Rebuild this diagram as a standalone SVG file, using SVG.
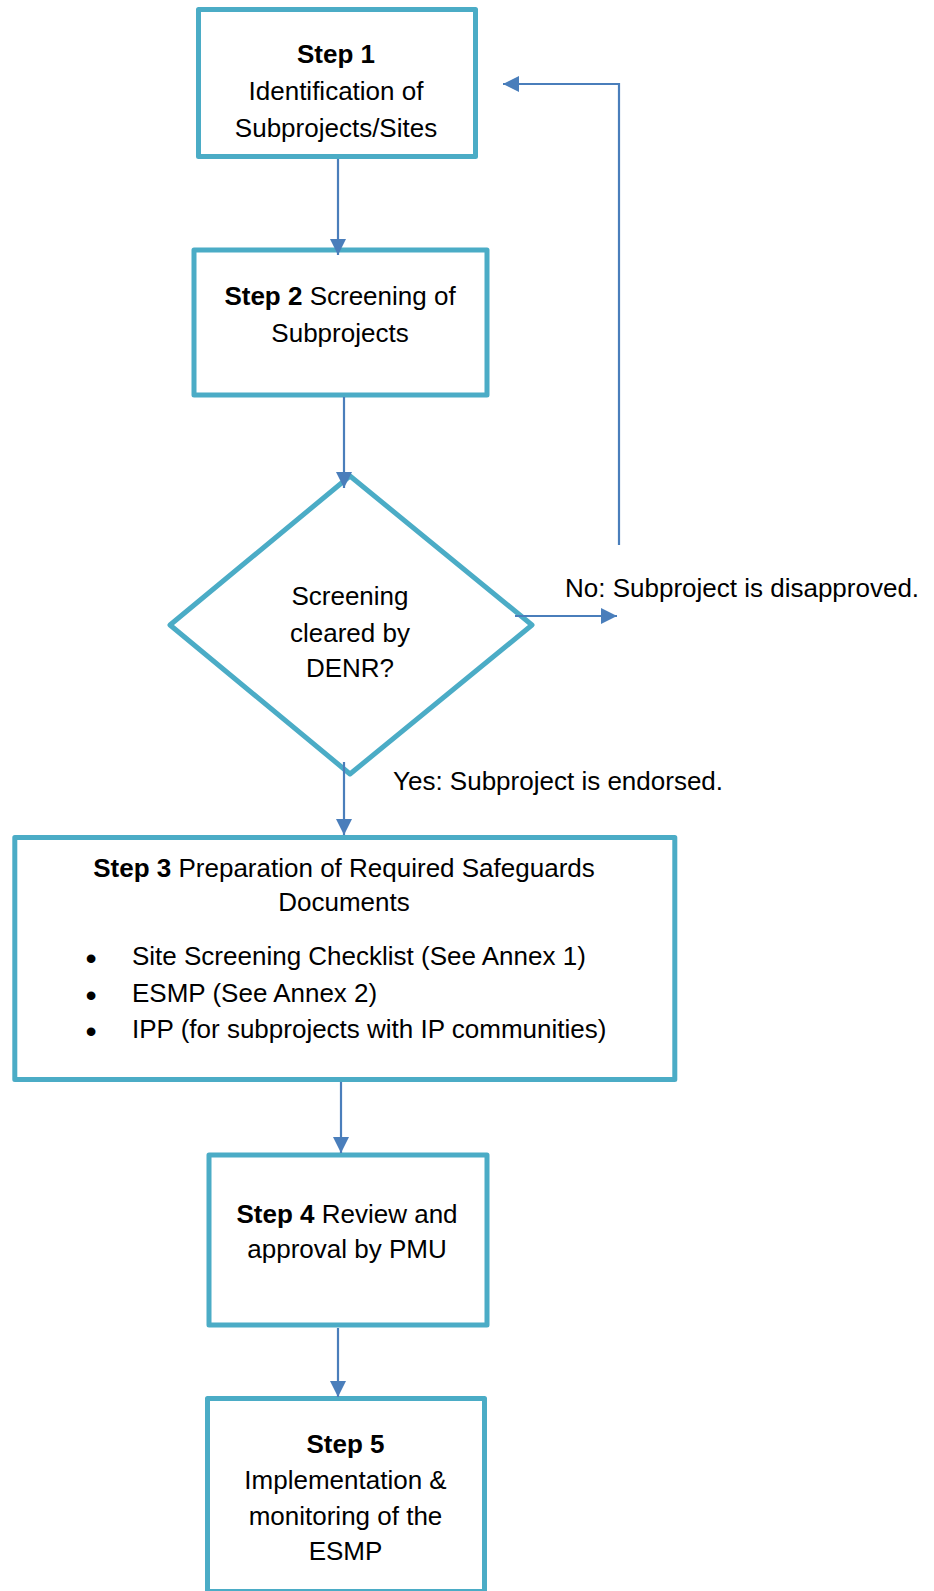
<svg xmlns="http://www.w3.org/2000/svg" width="934" height="1591" viewBox="0 0 934 1591">
<style>
.box{fill:#ffffff;stroke:#4BACC6;stroke-width:5;stroke-linejoin:round}
.con{fill:none;stroke:#4A7EBB;stroke-width:2.2}
.t{font-family:"Liberation Sans",Arial,sans-serif;font-size:26px;fill:#000000}
.c{text-anchor:middle}
.b{font-weight:bold}
.bul{font-size:32px}
</style>
<defs>
<marker id="ah" markerUnits="userSpaceOnUse" markerWidth="16" markerHeight="16" viewBox="0 0 15 15" refX="15" refY="7.5" orient="auto">
<path d="M0,0 L15,7.5 L0,15 z" fill="#4A7EBB"/>
</marker>
</defs>
<rect width="934" height="1591" fill="#ffffff"/>
<g id="step1">
<rect class="box" x="198.5" y="9.5" width="277" height="147"/>
<text class="t c b" x="336" y="63">Step 1</text>
<text class="t c" x="336" y="100">Identification of</text>
<text class="t c" x="336" y="137">Subprojects/Sites</text>
</g>
<g id="step2">
<rect class="box" x="194" y="250" width="293" height="145"/>
<text class="t c" x="340" y="305"><tspan class="b">Step 2</tspan> Screening of</text>
<text class="t c" x="340" y="342">Subprojects</text>
</g>
<g id="decision">
<polygon class="box" points="350,476 532,625 350,774 170,625"/>
<text class="t c" x="350" y="605">Screening</text>
<text class="t c" x="350" y="642">cleared by</text>
<text class="t c" x="350" y="677">DENR?</text>
</g>
<g id="step3">
<rect class="box" x="14.8" y="837.5" width="660" height="242"/>
<text class="t c" x="344" y="877"><tspan class="b">Step 3</tspan> Preparation of Required Safeguards</text>
<text class="t c" x="344" y="911">Documents</text>
<text class="t c bul" x="91" y="969">•</text>
<text class="t" x="132" y="965">Site Screening Checklist (See Annex 1)</text>
<text class="t c bul" x="91" y="1006">•</text>
<text class="t" x="132" y="1002">ESMP (See Annex 2)</text>
<text class="t c bul" x="91" y="1042">•</text>
<text class="t" x="132" y="1038">IPP (for subprojects with IP communities)</text>
</g>
<g id="step4">
<rect class="box" x="209" y="1155" width="278" height="170"/>
<text class="t c" x="347" y="1223"><tspan class="b">Step 4</tspan> Review and</text>
<text class="t c" x="347" y="1258">approval by PMU</text>
</g>
<g id="step5">
<rect class="box" x="207.5" y="1398.5" width="277" height="193"/>
<text class="t c b" x="345.5" y="1453">Step 5</text>
<text class="t c" x="345.5" y="1489">Implementation &amp;</text>
<text class="t c" x="345.5" y="1525">monitoring of the</text>
<text class="t c" x="345.5" y="1560">ESMP</text>
</g>
<g id="connectors">
<line class="con" x1="338" y1="159" x2="338" y2="255" marker-end="url(#ah)"/>
<line class="con" x1="344" y1="397" x2="344" y2="488" marker-end="url(#ah)"/>
<line class="con" x1="515" y1="616" x2="617" y2="616" marker-end="url(#ah)"/>
<polyline class="con" points="619,545 619,84 503,84" marker-end="url(#ah)"/>
<line class="con" x1="344" y1="762" x2="344" y2="835" marker-end="url(#ah)"/>
<line class="con" x1="341" y1="1082" x2="341" y2="1153" marker-end="url(#ah)"/>
<line class="con" x1="338" y1="1328" x2="338" y2="1397" marker-end="url(#ah)"/>
</g>
<g id="labels">
<text class="t" x="565" y="597">No: Subproject is disapproved.</text>
<text class="t" x="393" y="790">Yes: Subproject is endorsed.</text>
</g>
</svg>
